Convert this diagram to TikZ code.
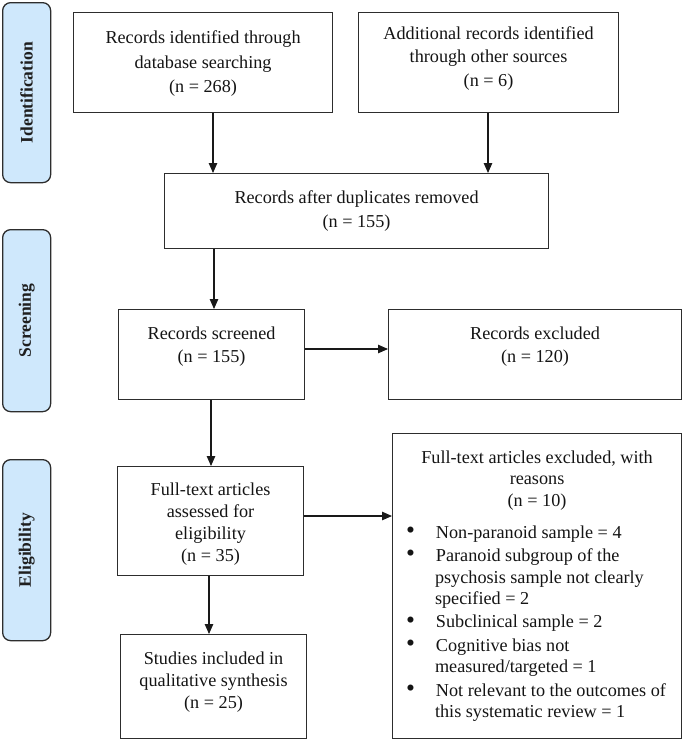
\documentclass[tikz,border=0pt]{standalone}
\usepackage{fontspec}
\setmainfont{Liberation Serif}
\usetikzlibrary{arrows.meta,calc}
\definecolor{lblue}{RGB}{207,232,252}
\definecolor{edge}{RGB}{45,45,45}
\newcommand{\bigbul}{\raisebox{-0.05ex}{\scalebox{1.4}{\textbullet}}}
\begin{document}
\begin{tikzpicture}[x=1pt,y=-1pt,
  box/.style={draw=edge, line width=1.1pt, rectangle, inner sep=0pt, anchor=north west},
  txt/.style={align=center, font=\fontsize{18.2}{22}\selectfont, inner sep=0pt, text=black!92},
  phase/.style={draw=edge, fill=lblue, line width=1.3pt, rounded corners=8pt, anchor=north west, minimum width=48pt, inner sep=0pt},
  plabel/.style={rotate=90, font=\fontsize{17.5}{20}\bfseries\selectfont, inner sep=0pt, text=black!88},
  arr/.style={line width=1.1pt, draw=black!90, -{Triangle[length=10pt,width=8.5pt]}}]
\useasboundingbox (0,0) rectangle (682,739);

% phase labels
\node[phase, minimum height=180pt, label={[plabel]center:Identification}] (idf) at (2,2) {};
\node[phase, minimum height=182pt, label={[plabel]center:Screening}] (scn) at (2,229) {};
\node[phase, minimum height=181pt, label={[plabel]center:Eligibility}] (elg) at (2,459) {};

% boxes
\node[box, minimum width=259pt, minimum height=100pt,
  label={[txt, yshift=-1pt, font=\fontsize{18.2}{24.5}\selectfont]center:{Records identified through\\database searching\\(n = 268)}}] (db) at (73,12) {};
\node[box, minimum width=260pt, minimum height=100pt,
  label={[txt, yshift=4.5pt, font=\fontsize{18.2}{23.5}\selectfont]center:{Additional records identified\\through other sources\\(n = 6)}}] (other) at (358,12) {};
\node[box, minimum width=384pt, minimum height=75pt,
  label={[txt, yshift=0.5pt, font=\fontsize{18.2}{24}\selectfont]center:{Records after duplicates removed\\(n = 155)}}] (dup) at (164,173) {};
\node[box, minimum width=186pt, minimum height=90pt,
  label={[txt, yshift=8pt, font=\fontsize{18.2}{23}\selectfont]center:{Records screened\\(n = 155)}}] (scr) at (118,309) {};
\node[box, minimum width=293pt, minimum height=90pt,
  label={[txt, yshift=8pt, font=\fontsize{18.2}{23}\selectfont]center:{Records excluded\\(n = 120)}}] (excl) at (388,309) {};
\node[box, minimum width=186pt, minimum height=109pt,
  label={[txt, yshift=-3pt, font=\fontsize{18.2}{21.9}\selectfont]center:{Full-text articles\\assessed for\\eligibility\\(n = 35)}}] (full) at (117,466) {};
\node[box, minimum width=186pt, minimum height=104pt,
  label={[txt, yshift=4.5pt]center:{Studies included in\\qualitative synthesis\\(n = 25)}}] (incl) at (120,634) {};
\node[box, minimum width=289pt, minimum height=305pt, text=black!92,
  font=\fontsize{18.2}{21.7}\selectfont] (rsn) at (392,433) {%
  \begin{minipage}{262pt}
  \centering Full-text articles excluded, with\\reasons\\(n = 10)\par
  \vspace{10pt}
  \begin{list}{\bigbul}{\setlength{\leftmargin}{29pt}\setlength{\labelsep}{21pt}%
    \setlength{\labelwidth}{8pt}\setlength{\itemsep}{1.5pt}\setlength{\parsep}{0pt}%
    \setlength{\topsep}{0pt}\setlength{\partopsep}{0pt}\raggedright}
  \item Non-paranoid sample = 4
  \item Paranoid subgroup of the\\psychosis sample not clearly\\specified = 2
  \item Subclinical sample = 2
  \item Cognitive bias not\\measured/targeted = 1
  \item Not relevant to the outcomes of\\this systematic review = 1
  \end{list}
  \end{minipage}};

% connector guides
\coordinate (v1) at (213,0);
\coordinate (v2) at (488,0);
\coordinate (v3) at (214,0);
\coordinate (v4) at (211,0);
\coordinate (v5) at (209,0);
\coordinate (h1) at (0,349);
\coordinate (h2) at (0,516);

\draw[arr] (db.south -| v1) -- (dup.north -| v1);
\draw[arr] (other.south -| v2) -- (dup.north -| v2);
\draw[arr] (dup.south -| v3) -- (scr.north -| v3);
\draw[arr] (scr.east |- h1) -- (excl.west |- h1);
\draw[arr] (scr.south -| v4) -- (full.north -| v4);
\draw[arr] (full.east |- h2) -- (rsn.west |- h2);
\draw[arr] (full.south -| v5) -- (incl.north -| v5);
\end{tikzpicture}
\end{document}
